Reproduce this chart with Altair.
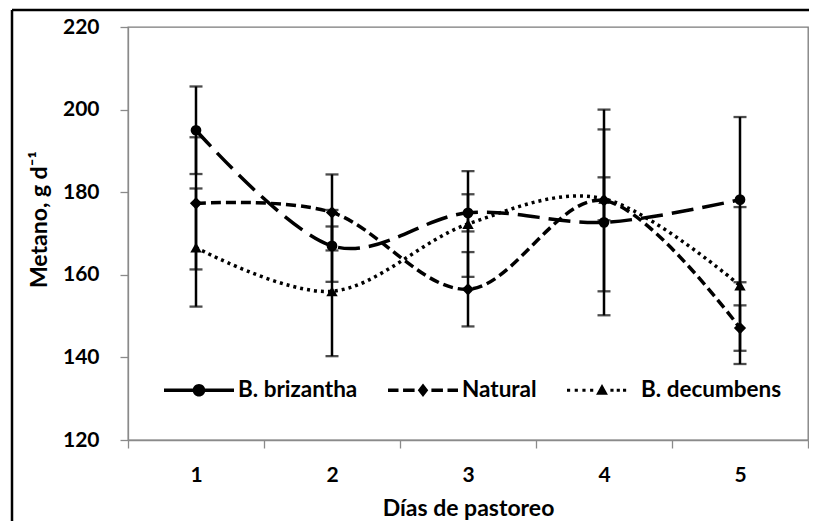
import altair as alt
import pandas as pd

# ---- data ----
days = ["1", "2", "3", "4", "5"]
series = ["B. brizantha", "Natural", "B. decumbens"]

brizantha_mean = [195.0, 167.0, 175.0, 172.7, 178.2]
brizantha_err = [10.6, 8.7, 4.5, 22.5, 20.0]
natural_mean = [177.3, 175.1, 156.5, 178.0, 147.1]
natural_err = [16.0, 9.2, 9.0, 22.0, 5.5]
decumbens_mean = [166.6, 156.0, 172.3, 178.4, 157.4]
decumbens_err = [14.3, 15.7, 12.8, 5.2, 19.0]

y_ticks = [120, 140, 160, 180, 200, 220]

rows = []
for name, means, errs in zip(series,
                             [brizantha_mean, natural_mean, decumbens_mean],
                             [brizantha_err, natural_err, decumbens_err]):
    for d, m, e in zip(days, means, errs):
        rows.append({"dia": d, "serie": name, "metano": m, "lo": m - e, "hi": m + e})
df = pd.DataFrame(rows)

FONT = "Lato"

# styles
line_dash = {"B. brizantha": [22, 9], "Natural": [10, 5], "B. decumbens": [3, 4]}
marker = {"B. brizantha": ("circle", 115), "Natural": ("diamond", 150), "B. decumbens": ("triangle-up", 130)}


def rect(x0, x1, h=0.05):
    return f"M{x0:.3f},{-h}H{x1:.3f}V{h}H{x0:.3f}Z"


# legend sample glyphs (line sample + marker), drawn as filled shapes in a [-1,1] box
circle = "M0.18,0A0.18,0.18 0 1,1 -0.18,0A0.18,0.18 0 1,1 0.18,0Z"
diamond = "M0,-0.19L0.15,0L0,0.19L-0.15,0Z"
triangle = "M0,-0.18L0.17,0.13L-0.17,0.13Z"
p_briz = rect(-1, 1) + " " + circle
p_nat = " ".join([rect(-1, -0.7), rect(-0.57, -0.24), rect(0.24, 0.57), rect(0.7, 1)]) + " " + diamond
dots = [rect(a, a + 0.09, 0.045) for a in (-1.0, -0.78, -0.56, -0.34, 0.24, 0.42, 0.60)]
p_dec = " ".join(dots) + " " + triangle
legend_paths = [p_briz, p_nat, p_dec]

x_enc = alt.X(
    "dia:O",
    bandPosition=0.5,
    scale=alt.Scale(type="band", domain=days, paddingInner=0, paddingOuter=0),
    axis=alt.Axis(title="Días de pastoreo", labelAngle=0, tickBand="extent",
                  tickSize=8, labelPadding=16, titleY=68, titleBaseline="middle"),
)
y_scale = alt.Scale(domain=[120, 220], nice=False, zero=False)
y_enc = alt.Y(
    "metano:Q", scale=y_scale,
    axis=alt.Axis(title="Metano, g d⁻¹", values=y_ticks, grid=False, tickSize=8,
                  labelPadding=21, titleX=-89, titleY=192, titleBaseline="middle",
                  titleAngle=-90),
)

base = alt.Chart(df)

layers = []
for s in series:
    layers.append(
        base.transform_filter(alt.datum.serie == s)
        .mark_line(color="black", strokeWidth=3.5, strokeDash=line_dash[s],
                   interpolate="cardinal", tension=0)
        .encode(x=x_enc, y=y_enc)
    )

err_rule = base.mark_rule(color="black", strokeWidth=2.5).encode(
    x=x_enc, y=alt.Y("lo:Q", scale=y_scale), y2="hi:Q")
cap_hi = base.mark_tick(orient="horizontal", color="black", size=13, thickness=2.3).encode(
    x=x_enc, y=alt.Y("hi:Q", scale=y_scale))
cap_lo = base.mark_tick(orient="horizontal", color="black", size=13, thickness=2.3).encode(
    x=x_enc, y=alt.Y("lo:Q", scale=y_scale))
layers += [err_rule, cap_hi, cap_lo]

for s in series:
    shp, sz = marker[s]
    layers.append(
        base.transform_filter(alt.datum.serie == s)
        .mark_point(filled=True, color="black", shape=shp, size=sz, opacity=1)
        .encode(x=x_enc, y=y_enc)
    )

leg = alt.Legend(title=None, orient="none", legendX=36, legendY=328, direction="horizontal",
                 symbolSize=4900, symbolStrokeWidth=0, symbolOpacity=1,
                 symbolFillColor="black",
                 labelFont=FONT, labelFontSize=22.5, labelFontWeight="bold", labelColor="black",
                 labelOffset=4, columnPadding=30, padding=0, labelLimit=300)
legend_layer = base.mark_point(filled=True, color="black", opacity=0).encode(
    x=x_enc, y=y_enc,
    shape=alt.Shape("serie:N", scale=alt.Scale(domain=series, range=legend_paths), legend=leg),
)
layers.append(legend_layer)

frame_df = pd.DataFrame({"k": [0]})
frame_top = alt.Chart(frame_df).mark_rule(color="black", strokeWidth=2.5).encode(
    x=alt.value(-116), x2=alt.value(700), y=alt.value(-17))
frame_left = alt.Chart(frame_df).mark_rule(color="black", strokeWidth=2.5).encode(
    x=alt.value(-116), y=alt.value(-17), y2=alt.value(510))
layers += [frame_top, frame_left]

chart = alt.layer(*layers).properties(
    width=680, height=413,
    autosize=alt.AutoSizeParams(type="none"),
    padding={"left": 120, "top": 19, "right": 1, "bottom": 81},
).configure_view(
    stroke="#7a7a7a", strokeWidth=1.3
).configure_axis(
    labelFont=FONT, labelFontSize=21, labelFontWeight="bold", labelColor="black",
    titleFont=FONT, titleFontSize=23, titleFontWeight="bold", titleColor="black",
    domainColor="#8a8a8a", tickColor="#8a8a8a", domainWidth=1.3, tickWidth=1.3,
)

chart.save("out.html", embed_options={"renderer": "svg", "actions": False})
